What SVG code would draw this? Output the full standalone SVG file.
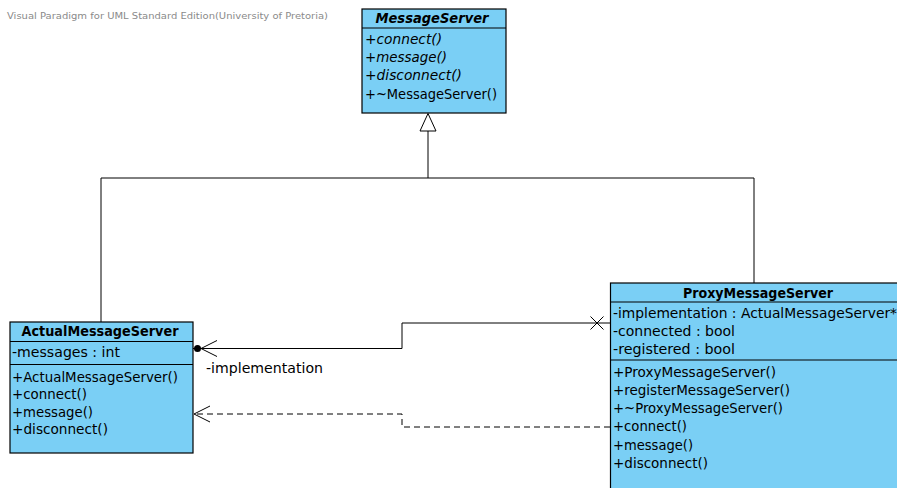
<svg xmlns="http://www.w3.org/2000/svg" width="897" height="488" viewBox="0 0 897 488">
<style>
.box{fill:#7ACFF5;stroke:#000;stroke-width:1.2}
.sep{stroke:#000;stroke-width:1.2}
.t{font-family:"DejaVu Sans",sans-serif;font-size:13.5px;fill:#000}
.title{font-weight:bold;text-anchor:middle}
.it{font-style:italic}
.ln{fill:none;stroke:#000;stroke-width:1}
.dash{stroke-dasharray:6,4}
.wm{font-family:"DejaVu Sans",sans-serif;font-size:9px;fill:#8a8a8a}
</style>
<rect width="897" height="488" fill="#fff"/>
<text class="wm" x="7" y="19" textLength="321" lengthAdjust="spacingAndGlyphs">Visual Paradigm for UML Standard Edition(University of Pretoria)</text>

<g id="connectors">
  <polygon points="428,113.5 420,131 436,131" fill="#fff" stroke="#000" stroke-width="1"/>
  <polyline class="ln" points="428,131 428,178"/>
  <polyline class="ln" points="101,322 101,178 754,178 754,283"/>
  <polyline class="ln" points="610,323 402,323 402,348.5 193,348.5"/>
  <circle cx="197.5" cy="348.5" r="3.5" fill="#000"/>
  <polyline class="ln" points="217,340.5 201,348.5 217,356.5"/>
  <path class="ln" d="M590.5,316.5 L603.5,329.5 M603.5,316.5 L590.5,329.5"/>
  <text class="t" x="206" y="373" textLength="117" lengthAdjust="spacingAndGlyphs">-implementation</text>
  <polyline class="ln dash" points="610,427 402,427 402,414 195,414"/>
  <polyline class="ln" points="210,406 194,414 210,422"/>
</g>

<g id="MessageServer">
  <rect class="box" x="362" y="9" width="144" height="104"/>
  <line class="sep" x1="362" y1="28" x2="506" y2="28"/>
  <text class="t title it" x="432" y="22.8" textLength="113" lengthAdjust="spacingAndGlyphs">MessageServer</text>
  <text class="t it" x="365" y="43.8" textLength="77" lengthAdjust="spacingAndGlyphs">+connect()</text>
  <text class="t it" x="365" y="62.1" textLength="82" lengthAdjust="spacingAndGlyphs">+message()</text>
  <text class="t it" x="365" y="80.4" textLength="97" lengthAdjust="spacingAndGlyphs">+disconnect()</text>
  <text class="t" x="365" y="98.8" textLength="132" lengthAdjust="spacingAndGlyphs">+~MessageServer()</text>
</g>

<g id="ActualMessageServer">
  <rect class="box" x="10" y="322" width="183" height="131"/>
  <line class="sep" x1="10" y1="341.5" x2="193" y2="341.5"/>
  <line class="sep" x1="10" y1="364.5" x2="193" y2="364.5"/>
  <text class="t title" x="100" y="335.8" textLength="157" lengthAdjust="spacingAndGlyphs">ActualMessageServer</text>
  <text class="t" x="12" y="357.3" textLength="108" lengthAdjust="spacingAndGlyphs">-messages : int</text>
  <text class="t" x="12" y="381.8" textLength="166" lengthAdjust="spacingAndGlyphs">+ActualMessageServer()</text>
  <text class="t" x="12" y="399.3" textLength="75" lengthAdjust="spacingAndGlyphs">+connect()</text>
  <text class="t" x="12" y="416.8" textLength="81" lengthAdjust="spacingAndGlyphs">+message()</text>
  <text class="t" x="12" y="434.3" textLength="96" lengthAdjust="spacingAndGlyphs">+disconnect()</text>
</g>

<g id="ProxyMessageServer">
  <rect class="box" x="610.5" y="283" width="296" height="215"/>
  <line class="sep" x1="610.5" y1="302" x2="906.5" y2="302"/>
  <line class="sep" x1="610.5" y1="360" x2="906.5" y2="360"/>
  <text class="t title" x="758" y="297.8" textLength="150" lengthAdjust="spacingAndGlyphs">ProxyMessageServer</text>
  <text class="t" x="613" y="317.8" textLength="284" lengthAdjust="spacingAndGlyphs">-implementation : ActualMessageServer*</text>
  <text class="t" x="613" y="336.1" textLength="122" lengthAdjust="spacingAndGlyphs">-connected : bool</text>
  <text class="t" x="613" y="354.3" textLength="122" lengthAdjust="spacingAndGlyphs">-registered : bool</text>
  <text class="t" x="613" y="376.8" textLength="163" lengthAdjust="spacingAndGlyphs">+ProxyMessageServer()</text>
  <text class="t" x="613" y="395" textLength="177" lengthAdjust="spacingAndGlyphs">+registerMessageServer()</text>
  <text class="t" x="613" y="413.2" textLength="170" lengthAdjust="spacingAndGlyphs">+~ProxyMessageServer()</text>
  <text class="t" x="613" y="431.4" textLength="74" lengthAdjust="spacingAndGlyphs">+connect()</text>
  <text class="t" x="613" y="449.6" textLength="80" lengthAdjust="spacingAndGlyphs">+message()</text>
  <text class="t" x="613" y="467.8" textLength="95" lengthAdjust="spacingAndGlyphs">+disconnect()</text>
</g>
</svg>
